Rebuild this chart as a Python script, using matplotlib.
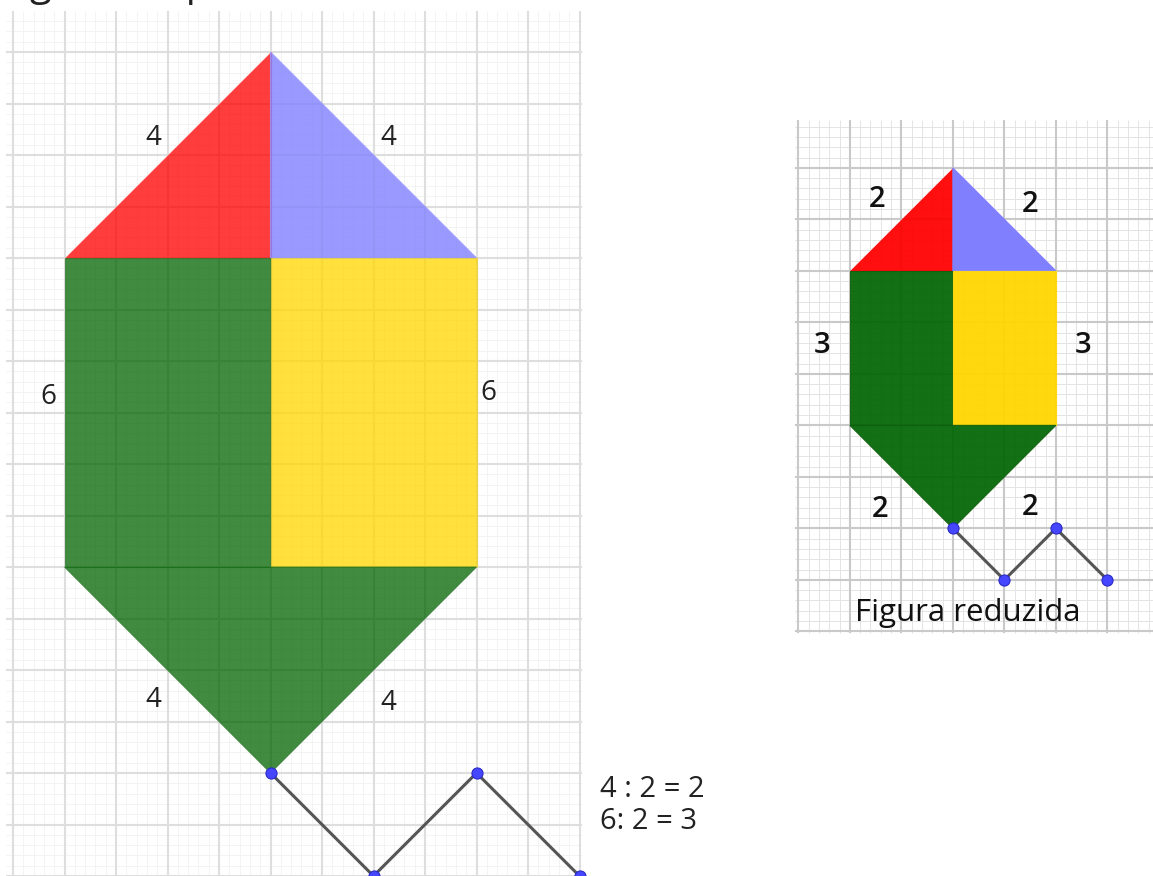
import numpy as np
import matplotlib
matplotlib.use("Agg")
import matplotlib.pyplot as plt
from matplotlib.patches import Polygon

plt.rcParams['font.family'] = ['Open Sans', 'DejaVu Sans']

# units: one major grid cell (about 51.5 px)
CELL = 51.5

# Figura ampliada (left)
big_red = [(1, 12), (5, 12), (5, 16)]
big_blue = [(5, 12), (9, 12), (5, 16)]
big_green = [(1, 6), (5, 6), (5, 12), (1, 12)]
big_yellow = [(5, 6), (9, 6), (9, 12), (5, 12)]
big_bottom = [(1, 6), (9, 6), (5, 2)]
big_zig_x = [5, 7, 9, 11]
big_zig_y = [2, 0, 2, 0]
big_labels = ["4", "4", "6", "6", "4", "4"]
big_label_pos = [(2.72, 14.33), (7.28, 14.33), (0.68, 9.30),
                 (9.24, 9.38), (2.72, 3.42), (7.28, 3.36)]

# Figura reduzida (right)
small_red = [(16.25, 11.75), (18.25, 11.75), (18.25, 13.75)]
small_blue = [(18.25, 11.75), (20.25, 11.75), (18.25, 13.75)]
small_green = [(16.25, 8.75), (18.25, 8.75), (18.25, 11.75), (16.25, 11.75)]
small_yellow = [(18.25, 8.75), (20.25, 8.75), (20.25, 11.75), (18.25, 11.75)]
small_bottom = [(16.25, 8.75), (20.25, 8.75), (18.25, 6.75)]
small_zig_x = [18.25, 19.25, 20.25, 21.25]
small_zig_y = [6.75, 5.75, 6.75, 5.75]
small_labels = ["2", "2", "3", "3", "2", "2"]
small_label_pos = [(16.78, 13.13), (19.75, 13.03), (15.71, 10.31),
                   (20.78, 10.31), (16.83, 7.11), (19.75, 7.15)]

fig = plt.figure(figsize=(11.53, 8.76), dpi=100)
ax = fig.add_axes([0, 0, 1, 1])
ax.set_xlim(-13 / CELL, 1140 / CELL)
ax.set_ylim(0, 876 / CELL)
ax.axis('off')


def draw_grid(x0, x1, y0, y1, mx, my, major_c, minor_c):
    # minor lines (5 per cell) then major lines
    xs = np.arange(mx - 5, x1 + 0.01, 0.2)
    xs = xs[(xs >= x0) & (xs <= x1)]
    ys = np.arange(my - 5, y1 + 0.01, 0.2)
    ys = ys[(ys >= y0) & (ys <= y1)]
    ax.vlines(xs, y0, y1, color=minor_c, lw=0.7, zorder=1)
    ax.hlines(ys, x0, x1, color=minor_c, lw=0.7, zorder=1)
    xm = np.arange(mx - 5, x1 + 0.01, 1.0)
    xm = xm[(xm >= x0 - 0.01) & (xm <= x1 + 0.01)]
    ym = np.arange(my - 5, y1 + 0.01, 1.0)
    ym = ym[(ym >= y0 - 0.01) & (ym <= y1 + 0.01)]
    ax.vlines(xm, y0, y1, color=major_c, lw=1.5, zorder=1.5)
    ax.hlines(ym, x0, x1, color=major_c, lw=1.5, zorder=1.5)


draw_grid(-0.14, 11.05, 0, 16.8, 0, 0, '#dedede', '#f3f3f3')
draw_grid(15.18, 22.2, 4.72, 14.68, 15.25, 4.75, '#c9c9c9', '#e4e4e4')


def shape(pts, color, alpha, edge):
    ax.add_patch(Polygon(pts, closed=True, facecolor=color, alpha=alpha,
                         edgecolor=edge, lw=0.8, zorder=3))


shape(big_red, '#ff0000', 0.76, '#ff3b3b')
shape(big_blue, '#8080ff', 0.8, '#9999ff')
shape(big_green, '#006400', 0.75, '#2f7a2f')
shape(big_yellow, '#ffd700', 0.76, '#e8cf40')
shape(big_bottom, '#006400', 0.75, '#2f7a2f')

shape(small_red, '#ff0000', 0.94, '#ff1010')
shape(small_blue, '#8080ff', 1.0, '#8080ff')
shape(small_green, '#006400', 0.92, '#106010')
shape(small_yellow, '#ffd700', 0.95, '#ffd712')
shape(small_bottom, '#006400', 0.92, '#106010')

for xs, ys in [(big_zig_x, big_zig_y), (small_zig_x, small_zig_y)]:
    ax.plot(xs, ys, color='#555555', lw=2.2, zorder=4, clip_on=False)
    ax.plot(xs, ys, 'o', ms=8, color='#4646ff', mec='#2a2ac8', mew=0.8,
            zorder=5, clip_on=False)

for t, (x, y) in zip(big_labels, big_label_pos):
    ax.text(x, y, t, fontsize=20, ha='center', va='center', color='#222222', zorder=6)
for t, (x, y) in zip(small_labels, small_label_pos):
    ax.text(x, y, t, fontsize=21, fontweight='semibold', ha='center', va='center',
            color='#111111', zorder=6)

ax.text(18.54, 5.11, "Figura reduzida", fontsize=22.5, ha='center', va='center',
        color='#111111', zorder=6)
ax.text(11.40, 1.67, "4 : 2 = 2", fontsize=21, ha='left', va='center', color='#222222')
ax.text(11.40, 1.05, "6: 2 = 3", fontsize=21, ha='left', va='center', color='#222222')
# title is cut by the top edge, as in the original picture
ax.text(-0.28, 17.11, "Figura ampliada", fontsize=29, ha='left', va='baseline',
        color='#222222')

fig.savefig("out.png", dpi=100)
